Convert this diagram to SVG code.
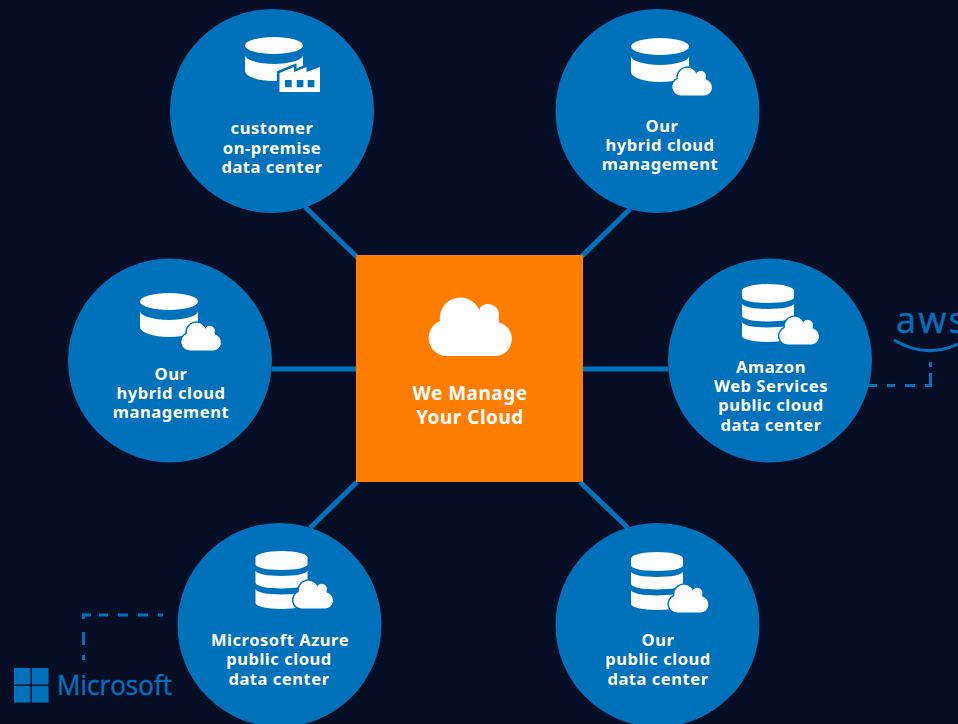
<svg xmlns="http://www.w3.org/2000/svg" width="958" height="724" viewBox="0 0 958 724">
<style>
.c{fill:#0071bb}
.l{font:700 16.600px "Noto Sans","Open Sans",sans-serif;fill:#fff;text-anchor:middle;letter-spacing:.5px}
.big{font-size:19px}
.cl{fill:#fff;stroke:#0071bb;stroke-width:6;paint-order:stroke}
.w{fill:#fff}
.link{stroke:#0071bb;stroke-width:5;fill:none}
.dash{stroke:#0071bb;stroke-width:3;fill:none}
.logo{fill:#0071bb;font-family:"Open Sans","Noto Sans",sans-serif;stroke:#0071bb;stroke-width:.4}
</style>
<defs>
<path id="cloud" d="M20 60A18.200 18.200 0 0 1 12 25A20.600 20.600 0 0 1 51.500 14.500L52 11.500A11 11 0 0 1 70.500 22.500L71 26.500A17 17 0 0 1 67 60Z"/>
<g id="disc" class="w"><ellipse cx="29" cy="8.500" rx="29" ry="8.500"/><path d="M0 18A29 9 0 0 0 58 18V34A29 10 0 0 1 0 34Z"/></g>
<g id="stack" class="w"><path d="M0 6.500A26 6.500 0 0 1 52 6.500V13.500A26 5.500 0 0 1 0 13.500Z"/><path d="M0 19.500A26 5.500 0 0 0 52 19.500V32A26 5.500 0 0 1 0 32Z"/><path d="M0 38A26 5.500 0 0 0 52 38V52A26 6 0 0 1 0 52Z"/></g>
</defs>
<rect width="958" height="724" fill="#060e26"/>
<g id="connectors">
<path class="link" d="M305 207L358 258M630 209L580 258M272 369H357M583 369H668M357 482L310 528M580 482L628 528"/>
<path class="dash" d="M868 385.500H877M887 385.500H895M905 385.500H915M925 385.500H930.500V373M930.500 367V362M163 615H158M148 615H138M128 615H118M108 615H99M91 615H83.500V619M83.500 632V645M83.500 655V660"/>
</g>
<g id="center"><rect x="356" y="255" width="227" height="227" fill="#ff7d00"/>
<use href="#cloud" x="428" y="296" fill="#fff"/>
<text x="470" y="400" class="l big">We Manage</text><text x="470" y="424" class="l big">Your Cloud</text></g>
<g id="on-premise"><circle class="c" cx="272" cy="111" r="102"/><use href="#disc" x="245" y="37"/>
<path fill="#fff" stroke="#0071bb" stroke-width="5" paint-order="stroke" d="M279.500 92V73L294 67V72L306.500 67V72L320 67V92Z"/>
<path fill="#0071bb" d="M285 80h6.700v7.300H285zM296.700 80h6.700v7.300h-6.700zM307.700 80h6.700v7.300h-6.700z"/>
<text class="l" x="272" y="134">customer</text><text class="l" x="272" y="154">on-premise</text><text class="l" x="272" y="173">data center</text></g>
<g id="hybrid-top"><circle class="c" cx="657.500" cy="111" r="102"/><use href="#disc" x="631" y="38"/>
<use href="#cloud" class="cl" transform="translate(672 67) scale(.476)"/>
<text class="l" x="662" y="132">Our</text><text class="l" x="660" y="151">hybrid cloud</text><text class="l" x="660" y="170">management</text></g>
<g id="hybrid-left"><circle class="c" cx="170" cy="360.500" r="102"/><use href="#disc" x="140" y="293"/>
<use href="#cloud" class="cl" transform="translate(181 322) scale(.476)"/>
<text class="l" x="171" y="380">Our</text><text class="l" x="171" y="399">hybrid cloud</text><text class="l" x="171" y="418">management</text></g>
<g id="aws"><circle class="c" cx="770" cy="360.500" r="102"/><use href="#stack" x="742" y="284"/>
<use href="#cloud" class="cl" transform="translate(779 316) scale(.476)"/>
<text class="l" x="771" y="373">Amazon</text><text class="l" x="771" y="392">Web Services</text><text class="l" x="771" y="411">public cloud</text><text class="l" x="771" y="431">data center</text></g>
<g id="azure"><circle class="c" cx="279.500" cy="625" r="102"/><use href="#stack" x="255.500" y="551"/>
<use href="#cloud" class="cl" transform="translate(293 580) scale(.476)"/>
<text class="l" x="280" y="646">Microsoft Azure</text><text class="l" x="279" y="665">public cloud</text><text class="l" x="279" y="685">data center</text></g>
<g id="public"><circle class="c" cx="657.500" cy="625" r="102"/><use href="#stack" x="631" y="552"/>
<use href="#cloud" class="cl" transform="translate(668.500 584) scale(.476)"/>
<text class="l" x="658" y="646">Our</text><text class="l" x="658" y="665">public cloud</text><text class="l" x="658" y="685">data center</text></g>
<g id="aws-logo"><text class="logo" x="896" y="333" font-size="36" textLength="70">aws</text>
<path d="M894 340Q925 359 958 344" fill="none" stroke="#0071bb" stroke-width="3"/></g>
<g id="ms-logo"><path class="c" d="M14 668h16.500v16.500H14zM32 668h16.500v16.500H32zM14 686h16.500v16.500H14zM32 686h16.500v16.500H32z"/>
<text class="logo" x="57" y="695" font-size="27.500" textLength="115" lengthAdjust="spacingAndGlyphs">Microsoft</text></g>
</svg>
